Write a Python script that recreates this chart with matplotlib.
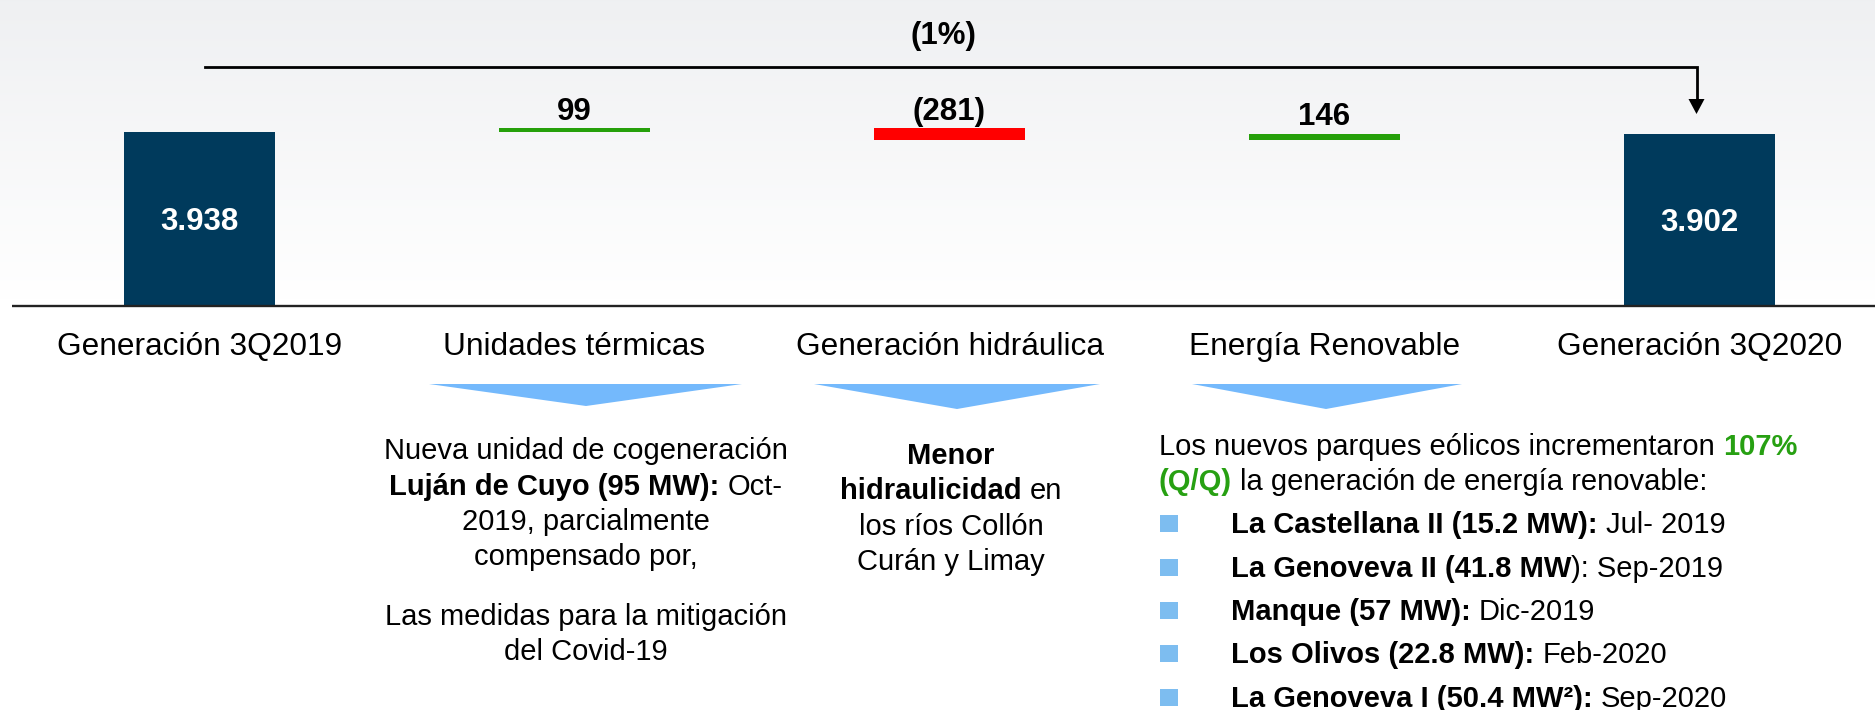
import matplotlib
matplotlib.use("Agg")
import matplotlib.pyplot as plt
import numpy as np
from matplotlib.patches import Polygon, Rectangle

plt.rcParams['font.family'] = ['Liberation Sans', 'DejaVu Sans']

# ---------------- data ----------------
categories = ["Generación 3Q2019", "Unidades térmicas", "Generación hidráulica",
              "Energía Renovable", "Generación 3Q2020"]
start_value = 3938
deltas = [99, -281, 146]
end_value = 3902
total_change_label = "(1%)"

block_termicas = [
    [("Nueva unidad de cogeneración", "normal", "k")],
    [("Luján de Cuyo (95 MW):", "bold", "k"), (" Oct-", "normal", "k")],
    [("2019, parcialmente", "normal", "k")],
    [("compensado por,", "normal", "k")],
    None,
    [("Las medidas para la mitigación", "normal", "k")],
    [("del Covid-19", "normal", "k")],
]
block_hidro = [
    [("Menor", "bold", "k")],
    [("hidraulicidad", "bold", "k"), (" en", "normal", "k")],
    [("los ríos Collón", "normal", "k")],
    [("Curán y Limay", "normal", "k")],
]
GREEN_T = "#27a012"
block_renov_intro = [
    [("Los nuevos parques eólicos incrementaron ", "normal", "k"), ("107%", "bold", GREEN_T)],
    [("(Q/Q)", "bold", GREEN_T), (" la generación de energía renovable:", "normal", "k")],
]
bullets = [
    [("La Castellana II (15.2 MW):", "bold", "k"), (" Jul- 2019", "normal", "k")],
    [("La Genoveva II (41.8 MW", "bold", "k"), ("): Sep-2019", "normal", "k")],
    [("Manque (57 MW):", "bold", "k"), (" Dic-2019", "normal", "k")],
    [("Los Olivos (22.8 MW):", "bold", "k"), (" Feb-2020", "normal", "k")],
    [("La Genoveva I (50.4 MW²):", "bold", "k"), (" Sep-2020", "normal", "k")],
]

def fmt(v):
    s = f"{abs(v):,}".replace(",", ".")
    return f"({s})" if v < 0 else s

# ---------------- styles ----------------
NAVY = "#003a5c"
GREEN = "#26a00a"
RED = "#ff0000"
TRI = "#74b9fc"
BUL = "#7dbdf0"

W, H = 1875, 710
BASE_Y = 306          # pixel row of value 0
PX_PER_UNIT = 0.0442

fig = plt.figure(figsize=(W / 100, H / 100), dpi=100)

# background with soft gradient
bg = fig.add_axes([0, 0, 1, 1], zorder=0)
grad = np.linspace(0, 1, 300)[:, None, None]
topc = np.array([0.937, 0.941, 0.949])[None, None, :]
img = topc * (1 - grad) + 1.0 * grad
img = np.repeat(img, 2, axis=1)
bg.imshow(img, extent=[0, W, 300, 0], aspect='auto', interpolation='bilinear')
bg.set_xlim(0, W); bg.set_ylim(H, 0); bg.axis('off')

# chart axes
ax = fig.add_axes([0, (H - BASE_Y) / H, 1, BASE_Y / H], zorder=2)
ax.patch.set_alpha(0)
ax.set_xlim(-0.532, 4.468)
ax.set_ylim(0, BASE_Y / PX_PER_UNIT)
ax.axis('off')

BW = 0.403
LBL = 22.5
ax.bar(0, start_value, width=BW, color=NAVY, zorder=3)
ax.annotate(fmt(start_value), (0, start_value / 2), xytext=(0, -8), textcoords='offset points',
            ha='center', va='baseline', color='white', fontsize=LBL, fontweight='bold', zorder=4)
running = start_value
for i, d in enumerate(deltas, start=1):
    lo = running if d > 0 else running + d
    ax.bar(i, abs(d), bottom=lo, width=BW, color=GREEN if d > 0 else RED, zorder=3)
    top_val = max(running, running + d)
    ax.annotate(fmt(d), (i, top_val), xytext=(0, 5.8), textcoords='offset points',
                ha='center', va='baseline', color='black', fontsize=LBL, fontweight='bold')
    running += d
n = len(categories) - 1
ax.bar(n, end_value, width=BW, color=NAVY, zorder=3)
ax.annotate(fmt(end_value), (n, end_value / 2), xytext=(0, -8), textcoords='offset points',
            ha='center', va='baseline', color='white', fontsize=LBL, fontweight='bold', zorder=4)

for i, c in enumerate(categories):
    ax.annotate(c, (i, 0), xytext=(0, -(355 - BASE_Y) * 0.72), textcoords='offset points',
                ha='center', va='baseline', fontsize=22.75, color='black', annotation_clip=False)

# overlay in pixel coordinates
ov = fig.add_axes([0, 0, 1, 1], zorder=5)
ov.patch.set_alpha(0)
ov.set_xlim(0, W); ov.set_ylim(H, 0); ov.axis('off')

fig.canvas.draw()
def px(xd):
    return ax.transData.transform((xd, 0))[0]

# baseline
ov.plot([12, W], [BASE_Y, BASE_Y], color='#222222', lw=1.7, solid_capstyle='butt')

# connector with arrow
x0, x1 = px(0) + 5, px(n) - 3
ov.plot([x0, x1, x1], [67, 67, 101], color='black', lw=2, solid_joinstyle='miter')
ov.add_patch(Polygon([(x1 - 8, 99), (x1 + 8, 99), (x1, 114)], closed=True, color='black', lw=0))
ov.text((px(0) + px(n)) / 2 - 6, 44, total_change_label, ha='center', va='baseline',
        fontsize=LBL, fontweight='bold')

# blue chevrons
for (l, r, tip, ty) in [(429, 742, 586, 406), (814, 1100, 957, 409), (1192, 1462, 1326, 409)]:
    ov.add_patch(Polygon([(l, 384), (r, 384), (tip, ty)], closed=True, color=TRI, lw=0))

renderer = fig.canvas.get_renderer()
FS = 21

def measure(s, weight):
    t1 = ov.text(0, 0, "x" + s + "x", fontsize=FS, fontweight=weight)
    t2 = ov.text(0, 0, "xx", fontsize=FS, fontweight=weight)
    w = t1.get_window_extent(renderer).width - t2.get_window_extent(renderer).width
    t1.remove(); t2.remove()
    return w

def space_w(weight):
    return measure(" ", weight)

def draw_runs(x, y, runs, ha='left'):
    widths = [measure(s, w) for s, w, c in runs]
    total = sum(widths)
    cur = x - total / 2 if ha == 'center' else x
    for (s, w, c), wd in zip(runs, widths):
        lead = len(s) - len(s.lstrip(' '))
        ov.text(cur + lead * space_w(w), y, s.strip(' '), fontsize=FS, fontweight=w,
                color=c, ha='left', va='baseline')
        cur += wd

ys1 = [459, 495, 530, 565, 595, 625, 660]
for y, line in zip(ys1, block_termicas):
    if line:
        draw_runs(586, y, line, ha='center')

ys2 = [464, 499, 535, 570]
for y, line in zip(ys2, block_hidro):
    draw_runs(951, y, line, ha='center')

for y, line in zip([455, 490], block_renov_intro):
    draw_runs(1159, y, line)

for y, line in zip([533, 577, 620, 663, 707], bullets):
    ov.add_patch(Rectangle((1160, y - 18), 18, 17, color=BUL, lw=0))
    draw_runs(1231, y, line)

fig.savefig("out.png", dpi=100)
